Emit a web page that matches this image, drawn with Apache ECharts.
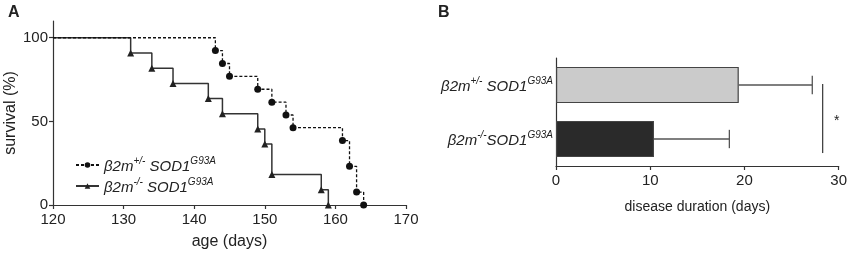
<!DOCTYPE html>
<html><head><meta charset="utf-8">
<script src="https://cdn.jsdelivr.net/npm/echarts@6/dist/echarts.min.js"></script>
<style>html,body{margin:0;padding:0;background:#fff}#c{width:850px;height:255px}</style>
</head><body><div id="c"></div>
<script>
// Panel A: Kaplan-Meier survival
const hetAge = [120,143,144,145,149,151,153,154,161,162,163,164];
const hetSurv = [100,92.3,84.6,76.9,69.2,61.5,53.8,46.2,38.5,23.1,7.7,0];
const koAge = [120,131,134,137,142,144,149,150,151,158,159];
const koSurv = [100,90.9,81.8,72.7,63.6,54.5,45.5,36.4,18.2,9.1,0];
const yTicksA = [0,50,100];
// Panel B: disease duration
const groupsB = ['ko','het'];
const durMean = [10.4, 19.4];
const durErr = [8.0, 7.8];
const sigX = 28.3;

const FONT = '"Liberation Sans", Arial, sans-serif';
const INK = '#222';
const names = {
  het: '{i|β2m}{s|+/-}{i| SOD1}{s|G93A}',
  ko: '{i|β2m}{s|-/-}{i| SOD1}{s|G93A}',
  koB: '{i|β2m}{s|-/-}{i|SOD1}{s|G93A}'
};
const rich = {
  i: {fontFamily: FONT, fontStyle: 'italic', fontSize: 15, color: INK, lineHeight: 18, verticalAlign: 'bottom'},
  s: {fontFamily: FONT, fontStyle: 'italic', fontSize: 10, color: INK, lineHeight: 18, verticalAlign: 'top'}
};

function km(ages, surv) {
  return ages.map((a, k) => k === 0 ? {value: [a, surv[k]], symbol: 'none'} : [a, surv[k]]);
}

const chart = echarts.init(document.getElementById('c'), null, {renderer: 'canvas'});
const axisLine = {show: true, lineStyle: {color: '#333', width: 1.2}};
const axisTick = {show: true, length: 4, lineStyle: {color: '#333', width: 1.2}};
const axisLabel = {color: INK, fontFamily: FONT, fontSize: 15};

chart.setOption({
  animation: false,
  title: [
    {text: 'A', left: 3, top: 0, textStyle: {fontFamily: FONT, fontWeight: 'bold', fontSize: 16, color: INK}},
    {text: 'B', left: 433, top: 0, textStyle: {fontFamily: FONT, fontWeight: 'bold', fontSize: 16, color: INK}}
  ],
  grid: [
    {left: 53, right: 444, top: 21, bottom: 44},
    {left: 556, right: 8, top: 58, bottom: 89}
  ],
  legend: {
    orient: 'vertical', left: 70, top: 151, itemWidth: 23, itemHeight: 7, itemGap: 3,
    data: ['het', 'ko'],
    formatter: n => names[n],
    textStyle: {rich: rich, padding: [0,0,0,0]}
  },
  xAxis: [
    {gridIndex: 0, type: 'value', min: 120, max: 170, interval: 10,
     axisLine, axisTick, axisLabel: Object.assign({margin: 7}, axisLabel), splitLine: {show: false},
     name: 'age (days)', nameLocation: 'middle', nameGap: 29,
     nameTextStyle: {fontFamily: FONT, fontSize: 16, color: INK}},
    {gridIndex: 1, type: 'value', min: 0, max: 30, interval: 10,
     axisLine, axisTick, axisLabel: Object.assign({margin: 7}, axisLabel), splitLine: {show: false},
     name: 'disease duration (days)', nameLocation: 'middle', nameGap: 34,
     nameTextStyle: {fontFamily: FONT, fontSize: 14, color: INK}}
  ],
  yAxis: [
    {gridIndex: 0, type: 'value', min: 0, max: 110,
     axisLine, axisTick: Object.assign({customValues: yTicksA}, axisTick),
     axisLabel: Object.assign({customValues: yTicksA, margin: 5}, axisLabel), splitLine: {show: false},
     name: 'survival (%)', nameLocation: 'middle', nameGap: 34, nameRotate: 90,
     nameTextStyle: {fontFamily: FONT, fontSize: 16, color: INK}},
    {gridIndex: 1, type: 'category', data: groupsB,
     axisLine, axisTick: {show: false},
     axisLabel: {margin: 3, formatter: v => v === 'ko' ? names.koB : names.het, rich: rich}}
  ],
  series: [
    {name: 'het', type: 'line', xAxisIndex: 0, yAxisIndex: 0, step: 'end',
     data: km(hetAge, hetSurv), symbol: 'circle', symbolSize: 7, showAllSymbol: true,
     lineStyle: {color: '#111', width: 1.3, type: [3, 2]}, itemStyle: {color: '#111'}, z: 3},
    {name: 'ko', type: 'line', xAxisIndex: 0, yAxisIndex: 0, step: 'end',
     data: km(koAge, koSurv), symbol: 'triangle', symbolSize: 7, showAllSymbol: true,
     lineStyle: {color: '#333', width: 1.5}, itemStyle: {color: '#222'}, z: 2},
    {type: 'bar', xAxisIndex: 1, yAxisIndex: 1, barCategoryGap: '33%',
     data: durMean.map((v, k) => ({value: v, itemStyle: {color: k === 0 ? '#2a2a2a' : '#cbcbcb'}})),
     itemStyle: {borderColor: '#444', borderWidth: 1.2}},
    {type: 'custom', xAxisIndex: 1, yAxisIndex: 1,
     data: durMean.map((v, k) => [v, k, durErr[k]]),
     renderItem: (params, api) => {
       const a = api.coord([api.value(0), api.value(1)]);
       const b = api.coord([api.value(0) + api.value(2), api.value(1)]);
       const h = api.size([0, 1])[1] * 0.17;
       const st = {stroke: '#555', lineWidth: 1.3};
       return {type: 'group', children: [
         {type: 'line', shape: {x1: a[0], y1: a[1], x2: b[0], y2: b[1]}, style: st},
         {type: 'line', shape: {x1: b[0], y1: b[1] - h, x2: b[0], y2: b[1] + h}, style: st}
       ]};
     }},
    {type: 'custom', xAxisIndex: 1, yAxisIndex: 1,
     data: [[sigX, 0, 1]],
     renderItem: (params, api) => {
       const top = api.coord([api.value(0), api.value(2)]);
       const bot = api.coord([api.value(0), api.value(1)]);
       const band = api.size([0, 1])[1];
       const y1 = top[1] - 1, y2 = bot[1] + band * 0.26;
       return {type: 'group', children: [
         {type: 'line', shape: {x1: top[0], y1: y1, x2: top[0], y2: y2}, style: {stroke: '#444', lineWidth: 1.3}},
         {type: 'text', x: top[0] + 14, y: (y1 + y2) / 2 + 3,
          style: {text: '*', fontFamily: FONT, fontSize: 14, fill: INK, align: 'center', verticalAlign: 'middle'}}
       ]};
     }}
  ]
});
</script></body></html>
